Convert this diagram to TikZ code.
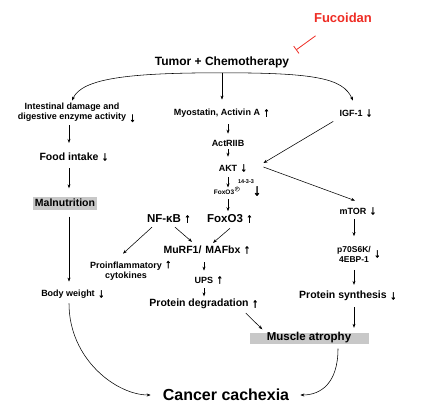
\documentclass[tikz,border=0pt]{standalone}
\usepackage{fontspec}
\setmainfont{Liberation Sans}
\newfontfamily\arrfont[FakeBold=2]{Liberation Sans}
\usetikzlibrary{arrows.meta,positioning,calc}
\definecolor{fucored}{RGB}{238,44,36}
\definecolor{boxgray}{RGB}{200,200,200}
\newcommand{\fs}[2]{\bfseries\fontsize{#1}{#2}\selectfont}

\begin{document}
\begin{tikzpicture}[
x=1pt,y=-1pt,
>={Stealth[length=4pt,width=3pt]},
lbl/.style={
	font=\fs{9}{10},
	align=center,
	inner sep=1pt
},
midlbl/.style={
	font=\fs{10.5}{12},
	align=center,
	inner sep=1pt
},
biglbl/.style={
	font=\fs{11.5}{13},
	inner sep=1pt
},
tinylbl/.style={
	font=\fs{6.5}{7},
	inner sep=0.5pt
},
arrg/.style={
	font=\arrfont\fontsize{12.5}{12.5}\selectfont,
	inner sep=0.5pt,
	label distance=1.5pt
},
greybox/.style={
	fill=boxgray,
	inner sep=0pt
},
link/.style={
	->,
	line width=0.55pt
},
inhibit/.style={
	-{Bar[width=9pt]},
	draw=fucored,
	line width=0.8pt
}
]
\useasboundingbox (0,0) rectangle (429,410);

\node[font=\fs{13}{14},text=fucored] (fuco) at (343,18) {Fucoidan};
\node[font=\fs{12}{13},inner sep=1pt] (tumor) at (222,62) {Tumor + Chemotherapy};
\coordinate (hub) at ([yshift=-4pt]tumor.south);
\coordinate (fucotarget) at (296,50);

% left branch
\node[lbl,label={[arrg,anchor=south west]south east:↓}] (intest) at (72,112) {Intestinal damage and\\digestive enzyme activity};
\node[midlbl,label={[arrg]right:↓}] (food) at (69,157) {Food intake};
\node[midlbl,greybox,minimum width=64pt,minimum height=13pt] (maln) at (65,203) {Malnutrition};
\node[lbl,label={[arrg]right:↓}] (body) at (68,294) {Body weight};

% middle branch
\node[lbl,label={[arrg]right:↑}] (myo) at (217,113) {Myostatin, Activin A};
\node[lbl] (actr) at (228,143) {ActRIIB};
\node[lbl,label={[arrg]right:↓}] (akt) at (228,168) {AKT};
\node[tinylbl] (fox1) at (224,192) {FoxO3};
\node[circle,draw,line width=0.3pt,inner sep=0.1pt,minimum size=4.5pt,font=\fs{3.5}{4},anchor=west] (phos) at ([yshift=3pt]fox1.east) {P};
\node[tinylbl,font=\fs{5.5}{6}] (prot) at (246,182) {14-3-3};
\node[font=\arrfont\fontsize{16}{16}\selectfont,inner sep=0pt] (foxdn) at (257,191) {↓};
\node[biglbl,label={[arrg]right:↑}] (foxo) at (225,219) {FoxO3};
\node[biglbl,label={[arrg]right:↑}] (nfkb) at (164,219) {NF-κB};
\node[midlbl,label={[arrg]right:↑}] (mur) at (202,250) {MuRF1/\hspace{4pt}MAFbx};
\node[lbl,label={[arrg,anchor=north west]north east:↑}] (proinf) at (126,271) {Proinflammatory\\cytokines};
\node[lbl,label={[arrg]right:↑}] (ups) at (204,280) {UPS};
\node[midlbl,label={[arrg]right:↑}] (pdeg) at (199,304) {Protein degradation};

% right branch
\node[lbl,label={[arrg]right:↓}] (igf) at (351,113) {IGF-1};
\node[lbl,label={[arrg]right:↓}] (mtor) at (353,211) {mTOR};
\node[lbl,font=\fs{8.5}{10},label={[arrg]right:↓}] (p70) at (354,254) {p70S6K/\\4EBP-1};
\node[midlbl,label={[arrg]right:↓}] (psyn) at (343,296) {Protein synthesis};

\node[midlbl,greybox,font=\fs{11.5}{13},minimum width=119pt,minimum height=11pt] (musc) at (309,338) {Muscle atrophy};
\node[font=\fs{16}{18},inner sep=1pt] (cc) at (226,395) {Cancer cachexia};

\draw[inhibit] ([xshift=5pt,yshift=-9.5pt]fuco.south west) -- (fucotarget);

\draw[link] (hub) .. controls +(-95,0) and +(10,-22) .. ([yshift=1pt]intest.north);
\draw[link,shorten >=8pt] (hub) -- (hub |- myo.north);
\draw[link] (hub) .. controls +(95,0) and +(-10,-22) .. ([xshift=2pt,yshift=8pt]igf.north);

\draw[link,shorten <=3pt,shorten >=9pt] (intest.south -| food) -- (food.north);
\draw[link,shorten <=6pt,shorten >=8pt] (food.south) -- (maln.north -| food);
\draw[link,shorten <=7pt,shorten >=7pt] (maln.south -| food) -- (body.north -| food);

\draw[link,shorten <=6pt,shorten >=5pt] (myo.south -| actr) -- (actr.north);
\draw[link,shorten <=2pt,shorten >=7pt] (actr.south) -- (akt.north);
\draw[link,shorten <=5pt,shorten >=1.5pt] (akt.south) -- (fox1.north -| akt);
\draw[link,shorten <=4pt,shorten >=2.5pt] (fox1.south -| akt) -- (foxo.north -| akt);

\draw[link] ([xshift=-12pt,yshift=-3pt]nfkb.south) -- ([xshift=-3pt,yshift=7pt]proinf.north);
\draw[link] ([xshift=11pt,yshift=-3pt]nfkb.south) -- ([xshift=-10pt,yshift=3pt]mur.north);
\draw[link] ([xshift=5pt,yshift=-4pt]foxo.south) -- ([xshift=11pt,yshift=2pt]mur.north);
\draw[link,shorten <=7pt,shorten >=5pt] (mur.south -| ups) -- (ups.north);
\draw[link,shorten <=4pt,shorten >=1.5pt] (ups.south) -- (pdeg.north -| ups);
\draw[link] ([xshift=-4pt,yshift=-3pt]pdeg.south east) -- ([xshift=13pt,yshift=3pt]musc.north west);

\draw[link] ([xshift=-5pt,yshift=-4pt]igf.south west) -- ([xshift=25pt,yshift=5pt]akt.east);
\draw[link] ([xshift=25pt,yshift=1pt]akt.east) -- ([xshift=2pt,yshift=6pt]mtor.north);
\draw[link,shorten <=4pt,shorten >=8.5pt] (mtor.south -| p70) -- (p70.north);
\draw[link,shorten <=6.5pt,shorten >=5pt] (p70.south) -- (psyn.north -| p70);
\draw[link,shorten <=5pt,shorten >=4.5pt] (psyn.south -| p70) -- (musc.north -| p70);

\draw[link,shorten <=4pt,shorten >=11pt] (body.south -| food) .. controls +(0,60) and +(-45,0) .. (cc.west);
\draw[link,shorten >=10pt] ([xshift=29pt,yshift=-5pt]musc.south) .. controls +(0,35) and +(30,0) .. (cc.east);
\end{tikzpicture}
\end{document}
